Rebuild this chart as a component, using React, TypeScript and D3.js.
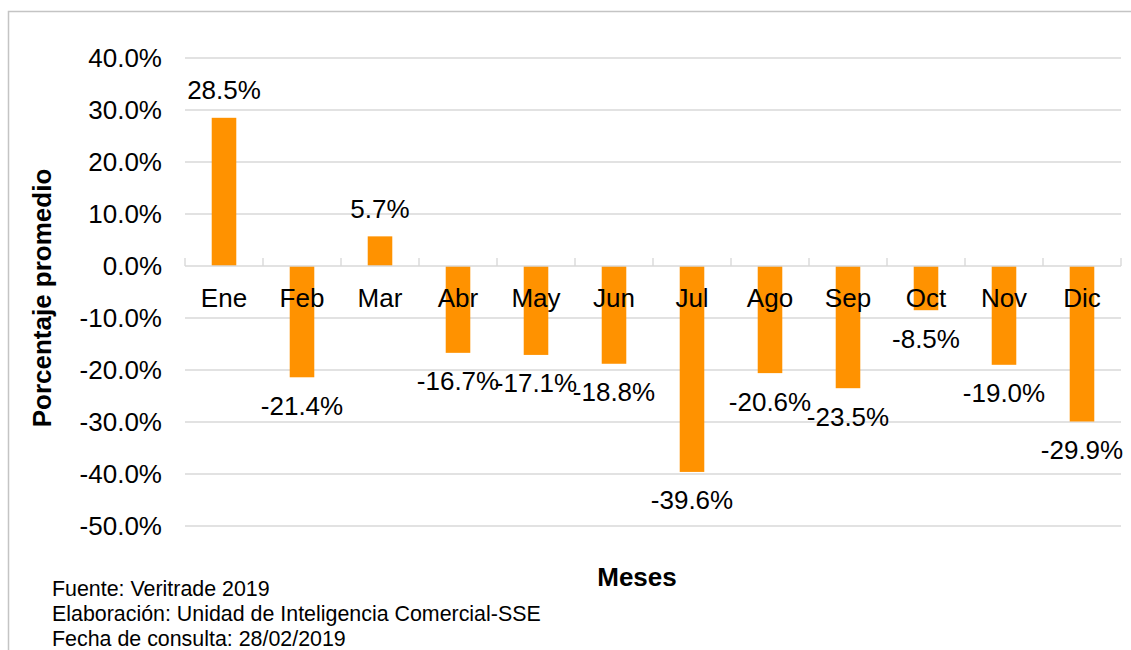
import React from "react";
import * as d3 from "d3";

const months = ["Ene", "Feb", "Mar", "Abr", "May", "Jun", "Jul", "Ago", "Sep", "Oct", "Nov", "Dic"];
const values = [28.5, -21.4, 5.7, -16.7, -17.1, -18.8, -39.6, -20.6, -23.5, -8.5, -19.0, -29.9];
const yTicks = [40, 30, 20, 10, 0, -10, -20, -30, -40, -50];
const footnotes = [
  "Fuente: Veritrade 2019",
  "Elaboración: Unidad de Inteligencia Comercial-SSE",
  "Fecha de consulta: 28/02/2019",
];

const FONT = "'Liberation Sans', Arial, sans-serif";

export default function App() {
  const W = 1131, H = 650;
  const x = d3.scaleBand<string>().domain(months).range([185, 1121]).paddingInner(0).paddingOuter(0);
  const y = d3.scaleLinear().domain([-50, 40]).range([526, 58]);
  const barW = x.bandwidth() * 0.315;
  const fmt = (v: number) => v.toFixed(1) + "%";
  const boundaries = d3.range(months.length + 1).map((i) => 185 + i * x.bandwidth());

  return (
    <svg width={W} height={H} style={{ position: "absolute", left: 0, top: 0, display: "block" }} fontFamily={FONT}>
      <rect x={0} y={0} width={W} height={H} fill="#fff" />
      <rect x={8.5} y={11.5} width={W + 20} height={H + 20} fill="none" stroke="#c4c4c4" strokeWidth={1.5} />
      {yTicks.filter((t) => t !== 0).map((t) => (
        <line key={t} x1={185} x2={1121} y1={y(t)} y2={y(t)} stroke="#d9d9d9" strokeWidth={1.4} />
      ))}
      {yTicks.map((t) => (
        <text key={"l" + t} x={162} y={y(t) + 9} textAnchor="end" fontSize={26} fill="#000">
          {fmt(t)}
        </text>
      ))}
      {months.map((m, i) => {
        const v = values[i];
        const cx = (x(m) as number) + x.bandwidth() / 2;
        const y0 = y(0), y1 = y(v);
        return (
          <rect key={m} x={cx - barW / 2} y={Math.min(y0, y1)} width={barW} height={Math.abs(y1 - y0)} fill="#ff9200" />
        );
      })}
      <line x1={185} x2={1121} y1={y(0)} y2={y(0)} stroke="#d9d9d9" strokeWidth={1.4} />
      {boundaries.map((bx, i) => (
        <line key={"t" + i} x1={bx} x2={bx} y1={y(0) - 8} y2={y(0)} stroke="#d9d9d9" strokeWidth={1.4} />
      ))}
      {months.map((m) => {
        const cx = (x(m) as number) + x.bandwidth() / 2;
        return (
          <text key={"c" + m} x={cx} y={y(0) + 41} textAnchor="middle" fontSize={26} fill="#000">
            {m}
          </text>
        );
      })}
      {months.map((m, i) => {
        const v = values[i];
        const cx = (x(m) as number) + x.bandwidth() / 2;
        const ly = v >= 0 ? y(v) - 18.6 : y(v) + 37.5;
        return (
          <text key={"v" + m} x={cx} y={ly} textAnchor="middle" fontSize={26} fill="#000">
            {fmt(v)}
          </text>
        );
      })}
      <text transform={`translate(51,298) rotate(-90)`} textAnchor="middle" fontSize={26} fontWeight="bold" fill="#000">
        Porcentaje promedio
      </text>
      <text x={637} y={586} textAnchor="middle" fontSize={26} fontWeight="bold" fill="#000">
        Meses
      </text>
      {footnotes.map((f, i) => (
        <text key={f} x={52} y={596 + i * 25} fontSize={21.4} fill="#000">
          {f}
        </text>
      ))}
    </svg>
  );
}
